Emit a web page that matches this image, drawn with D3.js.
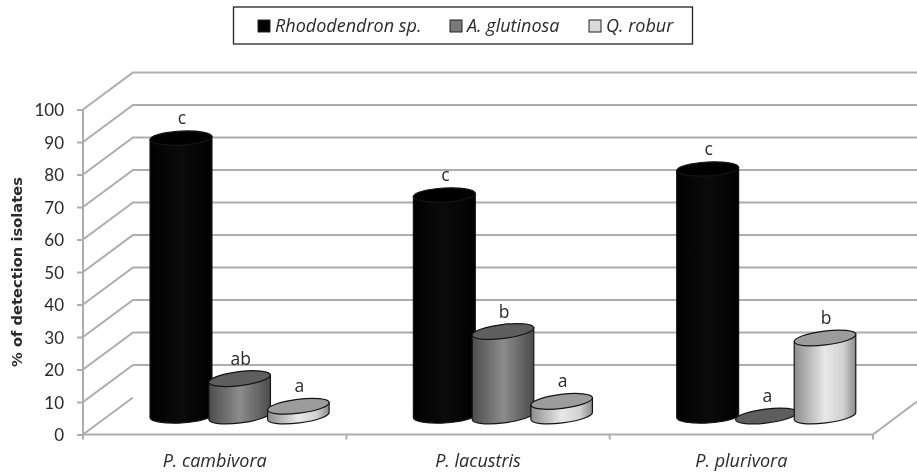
<!DOCTYPE html>
<html>
<head>
<meta charset="utf-8">
<script src="https://cdnjs.cloudflare.com/ajax/libs/d3/7.8.5/d3.min.js"></script>
<style>
  html, body { margin: 0; padding: 0; background: #fff; }
  svg { display: block; filter: blur(0.35px); }
  text { font-family: "Open Sans", Lato, sans-serif; fill: #2a2a2a; }
</style>
</head>
<body>
<svg id="chart" width="917" height="476"></svg>
<script>
// data
const species = ["P. cambivora", "P. lacustris", "P. plurivora"];
const hosts = ["Rhododendron sp.", "A. glutinosa", "Q. robur"];
const rhododendron = [85.5, 68, 76];
const glutinosa = [11.5, 26, 0];
const robur = [3, 4.5, 24];
const rhododendronLetters = ["c", "c", "c"];
const glutinosaLetters = ["ab", "b", "a"];
const roburLetters = ["a", "a", "b"];
const yTicks = [0, 10, 20, 30, 40, 50, 60, 70, 80, 90, 100];

const width = 917;
const height = 476;
const svg = d3.select("#chart");

const x0 = d3.scaleBand().domain(species).range([83, 873]);
const x1 = d3.scaleBand().domain(hosts).range([-88, 88]);
const y = d3.scaleLinear().domain([0, 100]).range([434.5, 109.5]);

// depth of the 3d box
const depthX = 50;
const depthY = 37;
const gridColor = "#adadad";

const defs = svg.append("defs");
function cylGradient(id, stops) {
  const g = defs.append("linearGradient").attr("id", id);
  stops.forEach(s => g.append("stop").attr("offset", s[0]).attr("stop-color", s[1]));
}
cylGradient("gradBlack", [[0, "#000"], [0.5, "#0b0b0b"], [1, "#000"]]);
cylGradient("gradGrey", [[0, "#4c4c4c"], [0.5, "#8c8c8c"], [1, "#4c4c4c"]]);
cylGradient("gradLight", [[0, "#8e8e8e"], [0.5, "#e8e8e8"], [0.8, "#d0d0d0"], [1, "#8a8a8a"]]);

const seriesStyle = {
  "Rhododendron sp.": { body: "url(#gradBlack)", top: "#000", swatch: "#000", tilt: -3 },
  "A. glutinosa": { body: "url(#gradGrey)", top: "#5e5e5e", swatch: "#7b7b7b", tilt: -7 },
  "Q. robur": { body: "url(#gradLight)", top: "#9c9c9c", swatch: "#d9d9d9", tilt: -7 }
};

// walls: gridlines run along the back wall and fold down the left wall
const grid = svg.append("g").attr("fill", "none").attr("stroke", gridColor).attr("stroke-width", 2);
yTicks.forEach(t => {
  const pts = t === 0
    ? [[83, y(t)], [873, y(t)], [917, y(t) - 33]]
    : [[83, y(t)], [83 + depthX, y(t) - depthY], [width, y(t) - depthY]];
  grid.append("path").attr("d", d3.line()(pts));
});
grid.append("path").attr("d", d3.line()([[83, y(0)], [83 + depthX, y(0) - depthY]]));
grid.append("line").attr("x1", 83).attr("x2", 83).attr("y1", y(100)).attr("y2", y(0));

// y axis
const yAxis = d3.axisLeft(y).tickValues(yTicks).tickSize(6).tickPadding(13);
const yG = svg.append("g").attr("transform", "translate(83,0)").call(yAxis);
yG.select(".domain").remove();
yG.selectAll("line").attr("stroke", gridColor).attr("stroke-width", 2);
yG.selectAll("text").style("font-size", "17px").style("font-family", "Lato, sans-serif").style("fill", "#2a2a2a").attr("dy", "0.36em");

// x axis
const xTicks = svg.append("g").attr("stroke", gridColor).attr("stroke-width", 2);
x0.domain().concat([null]).forEach((d, i) => {
  const xp = 83 + i * x0.step();
  xTicks.append("line").attr("x1", xp).attr("x2", xp).attr("y1", y(0)).attr("y2", y(0) + 5);
});
svg.append("g").selectAll("text").data(species).join("text")
  .attr("x", d => x0(d) + x0.bandwidth() / 2)
  .attr("y", 467)
  .attr("text-anchor", "middle")
  .style("font-size", "18px")
  .style("font-style", "italic")
  .text(d => d);

// y title
svg.append("text")
  .attr("transform", "translate(22,272) rotate(-90)")
  .attr("text-anchor", "middle")
  .style("font-family", "'DejaVu Sans', sans-serif")
  .style("font-size", "14.7px")
  .style("font-weight", "bold")
  .text("% of detection isolates");

// cylinders, left to right so each one overlaps its left neighbour
const rx = 31, ry = 7;
const baseY = y(0) - 18.5;
const rows = [
  { host: hosts[0], values: rhododendron, letters: rhododendronLetters },
  { host: hosts[1], values: glutinosa, letters: glutinosaLetters },
  { host: hosts[2], values: robur, letters: roburLetters }
];

species.forEach((sp, i) => {
  const cx0 = x0(sp) + x0.bandwidth() / 2 + depthX / 2;
  rows.forEach(row => {
    const v = row.values[i];
    const cx = cx0 + x1(row.host) + x1.bandwidth() / 2;
    const topY = baseY - (y(0) - y(v));
    const st = seriesStyle[row.host];
    const dx = rx * Math.cos(st.tilt * Math.PI / 180);
    const dy = rx * Math.sin(st.tilt * Math.PI / 180);
    const g = svg.append("g").attr("stroke", "#151515").attr("stroke-width", 1.2);
    if (v > 0) {
      const arc = `A${rx},${ry} ${st.tilt} 0 0 ${cx + dx},${baseY + dy}`;
      g.append("path")
        .attr("d", `M${cx - dx},${topY - dy} L${cx - dx},${baseY - dy} ${arc} L${cx + dx},${topY + dy} Z`)
        .attr("fill", st.body);
    }
    g.append("ellipse")
      .attr("rx", rx).attr("ry", ry)
      .attr("transform", `translate(${cx},${topY}) rotate(${st.tilt})`)
      .attr("fill", st.top);
    svg.append("text")
      .attr("x", cx + 1)
      .attr("y", topY - 14)
      .attr("text-anchor", "middle")
      .style("font-size", "17.5px")
      .text(row.letters[i]);
  });
});

// legend
svg.append("rect").attr("x", 233.5).attr("y", 7).attr("width", 459).attr("height", 37)
  .attr("fill", "#fff").attr("stroke", "#222").attr("stroke-width", 1.3);
const legendX = [258, 450, 589];
hosts.forEach((h, i) => {
  svg.append("rect").attr("x", legendX[i]).attr("y", 20).attr("width", 12).attr("height", 12)
    .attr("fill", seriesStyle[h].swatch).attr("stroke", "#222").attr("stroke-width", 1);
  svg.append("text").attr("x", legendX[i] + 17).attr("y", 32)
    .style("font-size", "18px").style("font-style", "italic").text(h);
});
</script>
</body>
</html>
